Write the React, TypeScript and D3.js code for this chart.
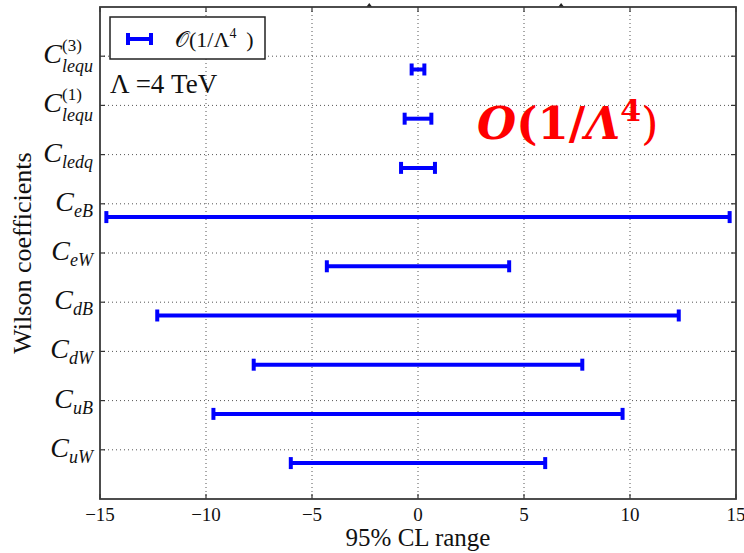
import React, { useEffect, useRef } from 'react';
import * as d3 from 'd3';

// coefficients, bottom to top
const coefSubs = ['uW', 'uB', 'dW', 'dB', 'eW', 'eB', 'ledq', 'lequ', 'lequ'];
const coefSups = ['', '', '', '', '', '', '', '(1)', '(3)'];
// half width of the 95% CL interval (symmetric around 0)
const halfRange = [6.0, 9.65, 7.75, 12.3, 4.3, 14.7, 0.8, 0.63, 0.3];
const xTicks = [-15, -10, -5, 0, 5, 10, 15];
const topMarks = [-2.3, 6.75];

const W = 744, H = 553;
const margin = { top: 7, right: 8, bottom: 54, left: 100 };
const serif = "Liberation Serif, Times New Roman, DejaVu Serif, serif";
const blue = '#0000ff';

function draw(node: SVGSVGElement) {
  const svg = d3.select(node);
  svg.selectAll('*').remove();

  const x = d3.scaleLinear().domain([-15, 15]).range([margin.left, W - margin.right]);
  const y = d3.scaleLinear().domain([0, 10]).range([H - margin.bottom, margin.top]);
  const yTicks = coefSubs.map((_, i) => i + 1);
  const [x0, x1] = x.range();
  const [yb, yt] = y.range();

  // grid
  svg.append('g').selectAll('line').data(xTicks.slice(1, -1)).enter().append('line')
    .attr('x1', d => x(d)).attr('x2', d => x(d)).attr('y1', yt).attr('y2', yb)
    .attr('stroke', '#555').attr('stroke-width', 1).attr('stroke-dasharray', '1,3');
  svg.append('g').selectAll('line').data(yTicks).enter().append('line')
    .attr('x1', x0).attr('x2', x1).attr('y1', d => y(d)).attr('y2', d => y(d))
    .attr('stroke', '#555').attr('stroke-width', 1).attr('stroke-dasharray', '1,3');

  // inward ticks
  const tk = svg.append('g').attr('stroke', '#333').attr('stroke-width', 1.2);
  yTicks.forEach(d => {
    tk.append('line').attr('x1', x0).attr('x2', x0 + 5).attr('y1', y(d)).attr('y2', y(d));
    tk.append('line').attr('x1', x1).attr('x2', x1 - 5).attr('y1', y(d)).attr('y2', y(d));
  });
  xTicks.forEach(d => {
    tk.append('line').attr('x1', x(d)).attr('x2', x(d)).attr('y1', yb).attr('y2', yb - 5);
    tk.append('line').attr('x1', x(d)).attr('x2', x(d)).attr('y1', yt).attr('y2', yt + 5);
  });

  // little marks sitting on the top edge
  svg.append('g').selectAll('path').data(topMarks).enter().append('path')
    .attr('d', d => `M${x(d) - 3},${yt} L${x(d)},${yt - 4} L${x(d) + 3},${yt} Z`)
    .attr('fill', '#222');

  // frame
  svg.append('rect').attr('x', x0).attr('y', yt).attr('width', x1 - x0).attr('height', yb - yt)
    .attr('fill', 'none').attr('stroke', '#3a3a3a').attr('stroke-width', 1.8);

  // x tick labels
  svg.append('g').selectAll('text').data(xTicks).enter().append('text')
    .attr('x', d => x(d)).attr('y', yb + 22).attr('text-anchor', 'middle')
    .attr('font-family', serif).attr('font-size', 19).attr('fill', '#111')
    .text(d => (d < 0 ? '\u2212' + Math.abs(d) : String(d)));

  // y tick labels: C with subscript / superscript
  yTicks.forEach((d, i) => {
    const t = svg.append('text').attr('x', x0 - 7).attr('y', y(d) + 7)
      .attr('text-anchor', 'end').attr('font-family', serif).attr('fill', '#111');
    t.append('tspan').attr('font-size', 28).attr('font-style', 'italic').text('C');
    if (coefSups[i]) {
      const sup = t.append('tspan').attr('font-size', 17).attr('dy', -12).text(coefSups[i]);
      const supW = (sup.node() as SVGTextContentElement).getComputedTextLength();
      t.append('tspan').attr('font-size', 18).attr('font-style', 'italic')
        .attr('dx', -supW).attr('dy', 21).text(coefSubs[i]);
    } else {
      t.append('tspan').attr('font-size', 18).attr('font-style', 'italic')
        .attr('dy', 6).text(coefSubs[i]);
    }
  });

  // error bars
  const capH = 6;
  const bars = svg.append('g').attr('stroke', blue).attr('stroke-width', 4);
  halfRange.forEach((h, i) => {
    const cy = y(i + 1 - 0.27);
    bars.append('line').attr('x1', x(-h)).attr('x2', x(h)).attr('y1', cy).attr('y2', cy);
    [-h, h].forEach(v => {
      bars.append('line').attr('x1', x(v)).attr('x2', x(v)).attr('y1', cy - capH).attr('y2', cy + capH);
    });
  });

  // legend
  const lg = svg.append('g');
  lg.append('rect').attr('x', 110).attr('y', 17).attr('width', 155).attr('height', 42)
    .attr('fill', '#fff').attr('stroke', '#222').attr('stroke-width', 1.5);
  const ly = 39;
  lg.append('line').attr('x1', 128).attr('x2', 151).attr('y1', ly).attr('y2', ly)
    .attr('stroke', blue).attr('stroke-width', 4);
  [128, 151].forEach(v => {
    lg.append('line').attr('x1', v).attr('x2', v).attr('y1', ly - capH).attr('y2', ly + capH)
      .attr('stroke', blue).attr('stroke-width', 4);
  });
  const lt = lg.append('text').attr('x', 175).attr('y', 47).attr('font-family', serif)
    .attr('font-size', 22).attr('fill', '#111');
  lt.append('tspan').text('\uD835\uDCAA(1/\u039B');
  lt.append('tspan').attr('font-size', 14).attr('dy', -9).text('4');
  lt.append('tspan').attr('dy', 9).text('\u2009 )');

  svg.append('text').attr('x', 110).attr('y', 93).attr('font-family', serif)
    .attr('font-size', 27).attr('fill', '#111').text('\u039B =4 TeV');

  // red annotation
  const rt = svg.append('text').attr('x', 477).attr('y', 139)
    .attr('font-family', "DejaVu Serif, serif").attr('font-weight', 'bold')
    .attr('font-size', 45).attr('fill', '#ff0000');
  rt.append('tspan').attr('font-style', 'italic').text('O');
  rt.append('tspan').text('(1/');
  rt.append('tspan').attr('font-style', 'italic').text('\u039B');
  rt.append('tspan').attr('font-size', 30).attr('dy', -18).text('4');
  rt.append('tspan').attr('dy', 18).attr('font-weight', 'normal').text(')');

  // axis titles
  svg.append('text').attr('x', (x0 + x1) / 2).attr('y', 546).attr('text-anchor', 'middle')
    .attr('font-family', serif).attr('font-size', 25).attr('fill', '#111').text('95% CL range');
  svg.append('text').attr('transform', `translate(31,${(yb + yt) / 2}) rotate(-90)`)
    .attr('text-anchor', 'middle').attr('font-family', serif).attr('font-size', 26)
    .attr('fill', '#111').text('Wilson coefficients');
}

export default function App() {
  const ref = useRef<SVGSVGElement>(null);

  useEffect(() => {
    if (ref.current) draw(ref.current);
  }, []);

  return (
    <svg ref={ref} width={W} height={H}
      style={{ position: 'absolute', left: 0, top: 0, background: '#fff' }} />
  );
}
